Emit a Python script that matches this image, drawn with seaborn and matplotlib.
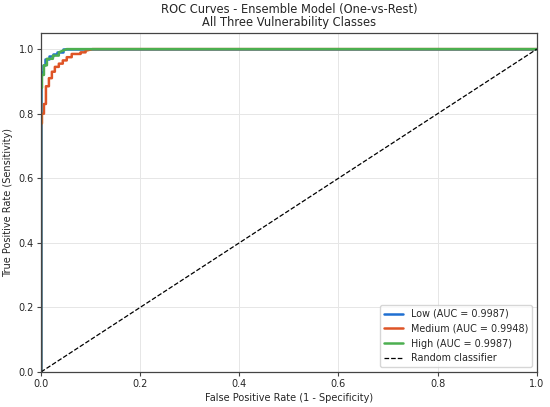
import numpy as np
import pandas as pd
import seaborn as sns
import matplotlib
matplotlib.use("Agg")
import matplotlib.pyplot as plt

# ROC points (step curves)
low_fpr = [0.0, 0.0, 0.0, 0.004, 0.004, 0.008, 0.008, 0.016, 0.016, 0.024, 0.024, 0.032, 0.032, 0.044, 0.044, 1.0]
low_tpr = [0.0, 0.90, 0.93, 0.93, 0.95, 0.95, 0.97, 0.97, 0.98, 0.98, 0.985, 0.985, 0.99, 0.99, 1.0, 1.0]

medium_fpr = [0.0, 0.0, 0.002, 0.002, 0.006, 0.006, 0.010, 0.010, 0.016, 0.016, 0.022, 0.022,
              0.028, 0.028, 0.036, 0.036, 0.044, 0.044, 0.052, 0.052, 0.062, 0.062, 0.080,
              0.080, 0.090, 0.090, 0.104, 1.0]
medium_tpr = [0.0, 0.77, 0.77, 0.80, 0.80, 0.83, 0.83, 0.885, 0.885, 0.91, 0.91, 0.93,
              0.93, 0.945, 0.945, 0.955, 0.955, 0.965, 0.965, 0.975, 0.975, 0.985, 0.985,
              0.99, 0.99, 0.995, 1.0, 1.0]

high_fpr = [0.0, 0.0, 0.002, 0.002, 0.006, 0.006, 0.012, 0.012, 0.024, 0.024, 0.036, 0.036, 0.052, 1.0]
high_tpr = [0.0, 0.88, 0.88, 0.92, 0.92, 0.95, 0.95, 0.97, 0.97, 0.98, 0.98, 0.99, 1.0, 1.0]

class_names = ["Low", "Medium", "High"]
auc_values = [0.9987, 0.9948, 0.9987]
colors = ["#1f6fd1", "#de5426", "#4caf50"]

curves = [(low_fpr, low_tpr), (medium_fpr, medium_tpr), (high_fpr, high_tpr)]

sns.set_style("whitegrid")
fig, ax = plt.subplots(figsize=(5.5, 4.07), dpi=100)

for name, auc, col, (fpr, tpr) in zip(class_names, auc_values, colors, curves):
    df = pd.DataFrame({"fpr": fpr, "tpr": tpr})
    sns.lineplot(data=df, x="fpr", y="tpr", ax=ax, color=col, linewidth=1.8,
                 sort=False, estimator=None, label=f"{name} (AUC = {auc:.4f})")

ax.plot([0, 1], [0, 1], "k--", linewidth=0.9, label="Random classifier")

ax.set_xlim(0, 1)
ax.set_ylim(0, 1.05)
ax.set_xticks(np.arange(0, 1.01, 0.2))
ax.set_yticks(np.arange(0, 1.01, 0.2))
ax.tick_params(labelsize=7, length=3, width=0.8, color="#444444", pad=2,
               bottom=True, left=True)
ax.grid(True, color="#e6e6e6", linewidth=0.7)
for s in ax.spines.values():
    s.set_color("#444444")
    s.set_linewidth(0.9)
ax.set_xlabel("False Positive Rate (1 - Specificity)", fontsize=7, labelpad=3)
ax.set_ylabel("True Positive Rate (Sensitivity)", fontsize=7, labelpad=4)
ax.set_title("ROC Curves - Ensemble Model (One-vs-Rest)\nAll Three Vulnerability Classes",
             fontsize=8.3, linespacing=1.05, pad=5)
ax.legend(loc="lower right", fontsize=6.9, frameon=True)

plt.subplots_adjust(left=0.0745, right=0.976, top=0.919, bottom=0.086)
plt.savefig("out.png", dpi=100)
